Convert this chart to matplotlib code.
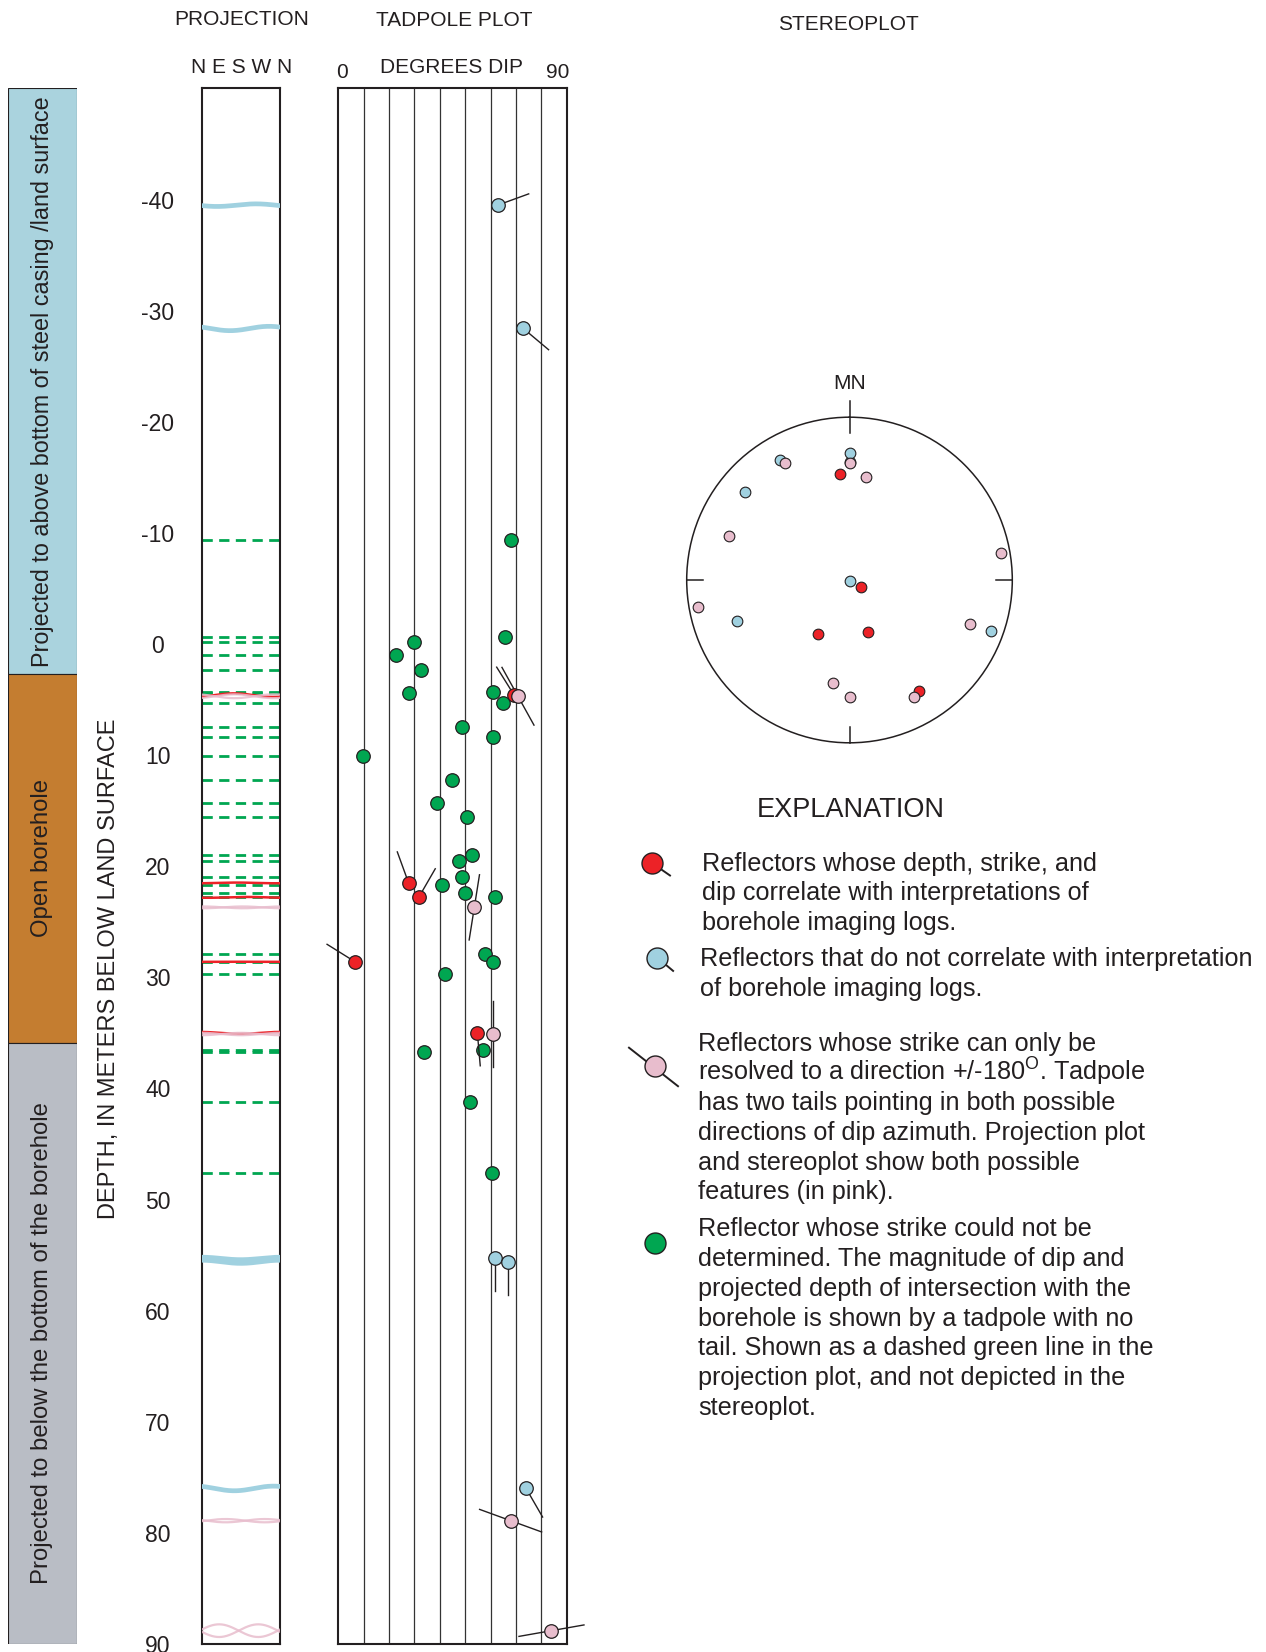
import numpy as np
import matplotlib.pyplot as plt

plt.rcParams['font.family'] = ['Liberation Sans', 'DejaVu Sans']
plt.rcParams['mathtext.fontset'] = 'custom'
plt.rcParams['mathtext.rm'] = 'Liberation Sans'

TXT = '#231f20'
RED = '#ec2227'
BLUE = '#a0d1e0'
PINK = '#e8bdcd'
GREEN = '#00a651'

# borehole intervals, m below land surface
zone_top = [-50, 2.7, 35.9]
zone_bot = [2.7, 35.9, 90]
zone_col = ['#aad3de', '#c47d30', '#b9bdc5']
zone_txt = ['Projected to above bottom of steel casing /land surface',
            'Open borehole',
            'Projected to below the bottom of the borehole']

# reflectors correlated with imaging logs: depth (m), dip (deg), dip azimuth (deg)
red_depth = [4.6, 21.5, 22.8, 28.6, 35.0]
red_dip = [69.3, 27.7, 31.7, 6.6, 54.8]
red_az = [328, 340, 30, 302, 175]

# reflectors not correlated with imaging logs
blue_depth = [-39.5, -28.4, 55.3, 55.6, 76.0]
blue_dip = [62.8, 72.9, 61.7, 66.9, 74.0]
blue_az = [70, 130, 180, 180, 150]

# uncorrelated reflectors outside the plotted depth interval (stereoplot only)
blue_extra_dip = [0.3, 81.4]
blue_extra_az = [0, 290]

# strike only known to +/-180 deg
pink_depth = [4.7, 23.7, 35.1, 78.9, 88.8]
pink_dip = [70.8, 53.6, 60.8, 67.9, 84.0]
pink_az = [151, 9, 0, 110, 80]

# strike not determined
green_depth = [-9.4, -0.6, -0.2, 1.0, 2.35, 4.4, 4.3, 5.35, 7.5, 8.35, 10.1, 12.2,
               14.3, 15.55, 19.0, 19.5, 21.0, 21.7, 22.4, 22.8, 27.9, 28.6, 29.7,
               36.5, 36.7, 41.2, 47.6]
green_dip = [67.9, 65.8, 29.8, 22.7, 32.7, 27.7, 60.8, 64.8, 48.7, 60.8, 9.9, 44.8,
             38.8, 50.8, 52.7, 47.7, 48.7, 40.9, 49.8, 61.9, 57.9, 60.8, 41.9,
             56.9, 33.8, 51.9, 60.5]

depth_ticks = list(range(-40, 91, 10))
BORE_R = 0.06  # borehole radius used for the projected traces, m

W, H = 1266, 1652
fig = plt.figure(figsize=(W / 100, H / 100), dpi=100)


def box(x0, y0, x1, y1, **kw):
    return fig.add_axes([x0 / W, 1 - y1 / H, (x1 - x0) / W, (y1 - y0) / H], **kw)


# ---- interval bar
axb = box(8.3, 88.5, 76.7, 1644)
axb.set_xlim(0, 1)
axb.set_ylim(90, -50)
heights = np.array(zone_bot) - np.array(zone_top)
axb.bar(0.5, heights, bottom=zone_top, width=1, color=zone_col,
        edgecolor=TXT, linewidth=0.8)
for t, b, s, fs in zip(zone_top, zone_bot, zone_txt, (16.8, 17.2, 17.2)):
    axb.text(0.5, (t + b) / 2, s, rotation=90, ha='center', va='center',
             fontsize=fs, color=TXT)
axb.axis('off')

# ---- projection plot
axp = box(201.7, 88.5, 280, 1644)
axp.set_xlim(0, 360)
axp.set_ylim(90, -50)
theta = np.linspace(0, 360, 300)


def trace(d, dip, az):
    return d + BORE_R * np.tan(np.radians(dip)) * np.cos(np.radians(theta - az))


for d in green_depth:
    axp.axhline(d, color=GREEN, lw=2.0, ls=(0, (3.7, 2.3)), zorder=2)
for d, dp, az in zip(red_depth, red_dip, red_az):
    axp.plot(theta, trace(d, dp, az), color=RED, lw=1.8, zorder=3)
for d, dp, az in zip(pink_depth, pink_dip, pink_az):
    for a in (az, az + 180):
        axp.plot(theta, trace(d, dp, a), color=PINK, lw=1.6, alpha=0.85, zorder=4)
for d, dp, az in zip(blue_depth, blue_dip, blue_az):
    axp.plot(theta, trace(d, dp, az), color=BLUE, lw=3.4, zorder=4)

axp.set_xticks([])
axp.set_yticks(depth_ticks)
axp.set_yticklabels([str(v) for v in depth_ticks])
axp.tick_params(axis='y', length=0, pad=31.5, labelsize=16.5, labelcolor=TXT)
for lab in axp.get_yticklabels():
    lab.set_ha('center')
for sp in axp.spines.values():
    sp.set_linewidth(1.5)
    sp.set_color(TXT)

# ---- tadpole plot
axt = box(338.3, 88.5, 566.7, 1644)
axt.set_xlim(0, 90)
axt.set_ylim(90, -50)
axt.set_xticks(range(10, 90, 10))
axt.set_yticks([])
axt.grid(axis='x', color='#333333', lw=0.9)
axt.tick_params(length=0, labelbottom=False)
for sp in axt.spines.values():
    sp.set_linewidth(1.5)
    sp.set_color(TXT)


def tail_end(ax, x, y, az, length=33):
    px, py = ax.transData.transform((x, y))
    a = np.radians(az)
    return ax.transData.inverted().transform((px + length * np.sin(a),
                                              py + length * np.cos(a)))


def tails(depths, dips, azs, both=False):
    for d, dp, az in zip(depths, dips, azs):
        for a in ((az, az + 180) if both else (az,)):
            ex, ey = tail_end(axt, dp, d, a)
            axt.plot([dp, ex], [d, ey], color=TXT, lw=1.0, zorder=3, clip_on=False)


tails(red_depth, red_dip, red_az)
tails(blue_depth, blue_dip, blue_az)
tails(pink_depth, pink_dip, pink_az, both=True)

head = dict(s=95, edgecolors=TXT, linewidths=0.9, clip_on=False)
axt.scatter(green_dip, green_depth, c=GREEN, zorder=2, **head)
axt.scatter(red_dip, red_depth, c=RED, zorder=4, **head)
axt.scatter(blue_dip, blue_depth, c=BLUE, zorder=4, **head)
axt.scatter(pink_dip, pink_depth, c=PINK, zorder=5, **head)

# ---- stereoplot: poles to planes, equal-area net
axs = box(849.5 - 162.8, 580 - 162.8, 849.5 + 162.8, 580 + 162.8, projection='polar')
axs.set_theta_zero_location('N')
axs.set_theta_direction(-1)
axs.set_ylim(0, 1)
axs.set_xticks([])
axs.set_yticks([])
axs.grid(False)
axs.spines['polar'].set_linewidth(1.1)
axs.spines['polar'].set_color(TXT)
for ang in (0, 90, 180, 270):
    r_out = 1.1 if ang == 0 else 1.0
    axs.plot([np.radians(ang)] * 2, [0.9, r_out], color=TXT, lw=1.1, clip_on=False)
axs.text(0, 1.21, 'MN', ha='center', va='center', fontsize=15, color=TXT)


def poles(azs, dips):
    azs = np.asarray(azs, float)
    dips = np.asarray(dips, float)
    return np.radians(azs + 180), np.sqrt(2) * np.sin(np.radians(dips) / 2)


dot = dict(s=59, edgecolors=TXT, linewidths=0.8, clip_on=False)
axs.scatter(*poles(blue_az + blue_extra_az, blue_dip + blue_extra_dip), c=BLUE, zorder=3, **dot)
axs.scatter(*poles(red_az, red_dip), c=RED, zorder=3, **dot)
axs.scatter(*poles(pink_az + [a + 180 for a in pink_az], pink_dip + pink_dip), c=PINK,
            zorder=4, **dot)

# ---- headings and explanation (pixel coordinates)
ov = box(0, 0, W, H)
ov.set_xlim(0, W)
ov.set_ylim(H, 0)
ov.axis('off')
ov.patch.set_alpha(0)

hd = dict(ha='center', va='center', fontsize=15, color=TXT)
ov.text(242, 19.5, 'PROJECTION', **hd)
ov.text(241.5, 67.5, 'N E S W N', **hd)
ov.text(454, 20, 'TADPOLE PLOT', **hd)
ov.text(452, 67.5, 'DEGREES DIP', **hd)
ov.text(341.7, 72, '0', **hd)
ov.text(558, 72, '90', **hd)
ov.text(848.5, 24.5, 'STEREOPLOT', **hd)
ov.text(109.3, 969, 'DEPTH, IN METERS BELOW LAND SURFACE', rotation=90,
        ha='center', va='center', fontsize=17, color=TXT)
ov.text(850.5, 810, 'EXPLANATION', ha='center', va='center', fontsize=19.5, color=TXT)

blocks = [
    (701.7, 870.5, ['Reflectors whose depth, strike, and',
                    'dip correlate with interpretations of',
                    'borehole imaging logs.']),
    (700, 966, ['Reflectors that do not correlate with interpretation',
                'of borehole imaging logs.']),
    (698, 1051, ['Reflectors whose strike can only be',
                 r'resolved to a direction +/-180$^{\mathrm{O}}$. Tadpole',
                 'has two tails pointing in both possible',
                 'directions of dip azimuth. Projection plot',
                 'and stereoplot show both possible',
                 'features (in pink).']),
    (698, 1236.5, ['Reflector whose strike could not be',
                   'determined. The magnitude of dip and',
                   'projected depth of intersection with the',
                   'borehole is shown by a tadpole with no',
                   'tail. Shown as a dashed green line in the',
                   'projection plot, and not depicted in the',
                   'stereoplot.']),
]
for x0, y0, lines in blocks:
    for i, s in enumerate(lines):
        ov.text(x0, y0 + i * 29.7, s, ha='left', va='baseline', fontsize=18.2, color=TXT)

icon = dict(s=228, edgecolors=TXT, linewidths=1.0, zorder=3)
ov.plot([652, 670], [863, 875.5], color=TXT, lw=1.4)
ov.scatter(652, 863, c=RED, **icon)
ov.plot([657.3, 673.1], [957.6, 970.9], color=TXT, lw=1.4)
ov.scatter(657.3, 957.6, c=BLUE, **icon)
ov.plot([629, 678], [1047.7, 1086.2], color=TXT, lw=1.4)
ov.scatter(655.3, 1066.3, c=PINK, **icon)
ov.scatter(655.3, 1242.7, c=GREEN, **icon)

fig.savefig('out.png', dpi=100)
